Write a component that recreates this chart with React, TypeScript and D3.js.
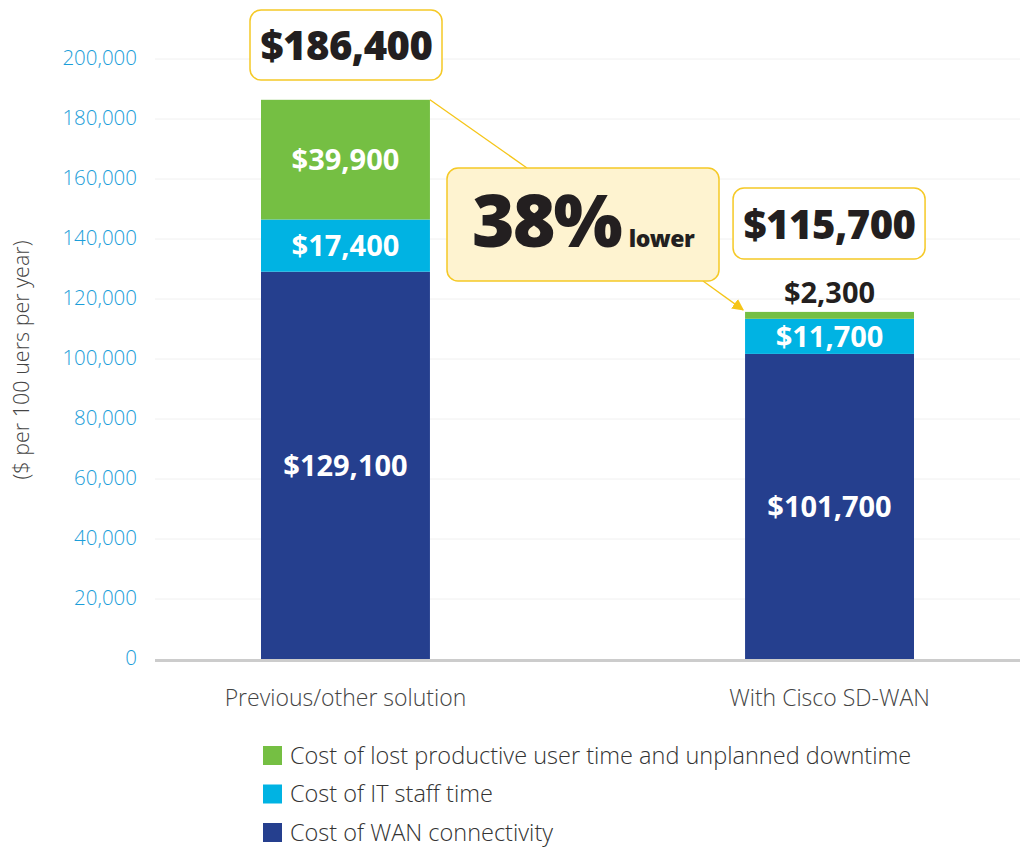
import React from 'react';
import { scaleLinear, scaleBand, stack } from 'd3';

const categories = ['Previous/other solution', 'With Cisco SD-WAN'];
const wan = [129100, 101700];
const staff = [17400, 11700];
const lost = [39900, 2300];
const totals = ['$186,400', '$115,700'];
const yTicks = [0, 20000, 40000, 60000, 80000, 100000, 120000, 140000, 160000, 180000, 200000];
const seriesNames = [
  'Cost of WAN connectivity',
  'Cost of IT staff time',
  'Cost of lost productive user time and unplanned downtime',
];
const colors = ['#253f8e', '#00b3e3', '#75bf43'];

const font = "'Open Sans', 'Noto Sans', sans-serif";

const App = () => {
  const W = 1027;
  const H = 848;
  const x = scaleBand().domain(categories).range([155, 1020]).paddingInner(0.651).paddingOuter(0.219);
  const y = scaleLinear().domain([0, 200000]).range([659, 59]);

  const rows = categories.map((c, i) => ({ cat: c, wan: wan[i], staff: staff[i], lost: lost[i] }));
  const series = stack<any>().keys(['wan', 'staff', 'lost'])(rows);

  const fmt = (v: number) => '$' + v.toLocaleString('en-US');

  const x0 = x(categories[0])!;
  const x1 = x(categories[1])!;
  const bw = x.bandwidth();
  const top0 = y(wan[0] + staff[0] + lost[0]);
  const top1 = y(wan[1] + staff[1] + lost[1]);

  return (
    <svg width={W} height={H} style={{ position: 'absolute', left: 0, top: 0 }} fontFamily={font}>
      <defs>
        <marker id="arr" viewBox="0 0 10 10" refX="9" refY="5" markerWidth="9" markerHeight="9" orient="auto">
          <path d="M0,0 L10,5 L0,10 z" fill="#f5c518" />
        </marker>
      </defs>
      {yTicks.map((t) => (
        <g key={t}>
          {t > 0 && <line x1={155} x2={1020} y1={y(t)} y2={y(t)} stroke="#f0f0f0" strokeWidth={1} />}
          <text x={137} y={y(t) - 1} dy="0.35em" textAnchor="end" fontSize={20.5} fontWeight={300} fill="#1b9ed9">
            {t.toLocaleString('en-US')}
          </text>
        </g>
      ))}
      <text transform="translate(29,360) rotate(-90)" textAnchor="middle" fontSize={21.5} fontWeight={300} fill="#444">
        ($ per 100 uers per year)
      </text>

      {series.map((s, si) =>
        s.map((d: any, i: number) => (
          <rect key={si + '-' + i} x={x(categories[i])} width={bw} y={y(d[1])} height={y(d[0]) - y(d[1])} fill={colors[si]} />
        ))
      )}
      <line x1={155} x2={1020} y1={660.5} y2={660.5} stroke="#cccccc" strokeWidth={3} />

      {/* segment labels */}
      {series.map((s, si) =>
        s.map((d: any, i: number) => {
          const v = d[1] - d[0];
          const h = y(d[0]) - y(d[1]);
          const inside = h > 25;
          const cy = inside ? (y(d[0]) + y(d[1])) / 2 : y(d[1]) - 19;
          return (
            <text key={'l' + si + '-' + i} x={x(categories[i])! + bw / 2} y={cy} dy="0.36em" textAnchor="middle"
              fontSize={29} fontWeight={700} fill={inside ? '#fff' : '#231f20'}>
              {fmt(v)}
            </text>
          );
        })
      )}

      {categories.map((c) => (
        <text key={c} x={x(c)! + bw / 2} y={698} dy="0.35em" textAnchor="middle" fontSize={23} fontWeight={300} fill="#444">
          {c}
        </text>
      ))}

      {/* connector lines */}
      <line x1={x0 + bw} y1={top0} x2={527} y2={168} stroke="#f5c518" strokeWidth={1.3} />
      <line x1={703} y1={281} x2={x1 - 2} y2={top1 - 2} stroke="#f5c518" strokeWidth={1.3} markerEnd="url(#arr)" />

      {/* total callouts */}
      <rect x={x0 - 11} y={10} width={192} height={70} rx={11} fill="#fff" stroke="#f5c926" strokeWidth={1.5} />
      <text x={x0 + bw / 2 + 1} y={60} textAnchor="middle" fontSize={40} fontWeight={800} fill="#231f20" letterSpacing={-0.5}>
        {totals[0]}
      </text>
      <rect x={x1 - 12} y={188} width={192} height={71} rx={11} fill="#fff" stroke="#f5c926" strokeWidth={1.5} />
      <text x={x1 + bw / 2} y={239} textAnchor="middle" fontSize={40} fontWeight={800} fill="#231f20" letterSpacing={-0.5}>
        {totals[1]}
      </text>

      <rect x={447} y={168} width={272} height={113} rx={11} fill="#fef3d0" stroke="#f5c926" strokeWidth={1.5} />
      <text x={472} y={247} fontSize={73} fontWeight={800} fill="#231f20" letterSpacing={-2}>
        38%
        <tspan dx={8} fontSize={23} letterSpacing={-0.5}>lower</tspan>
      </text>

      {/* legend */}
      {[2, 1, 0].map((si, k) => (
        <g key={si} transform={`translate(263, ${746 + k * 38.5})`}>
          <rect width={19} height={19} fill={colors[si]} />
          <text x={27} y={10} dy="0.33em" fontSize={23.5} fontWeight={300} fill="#333">
            {seriesNames[si]}
          </text>
        </g>
      ))}
    </svg>
  );
};

export default App;
